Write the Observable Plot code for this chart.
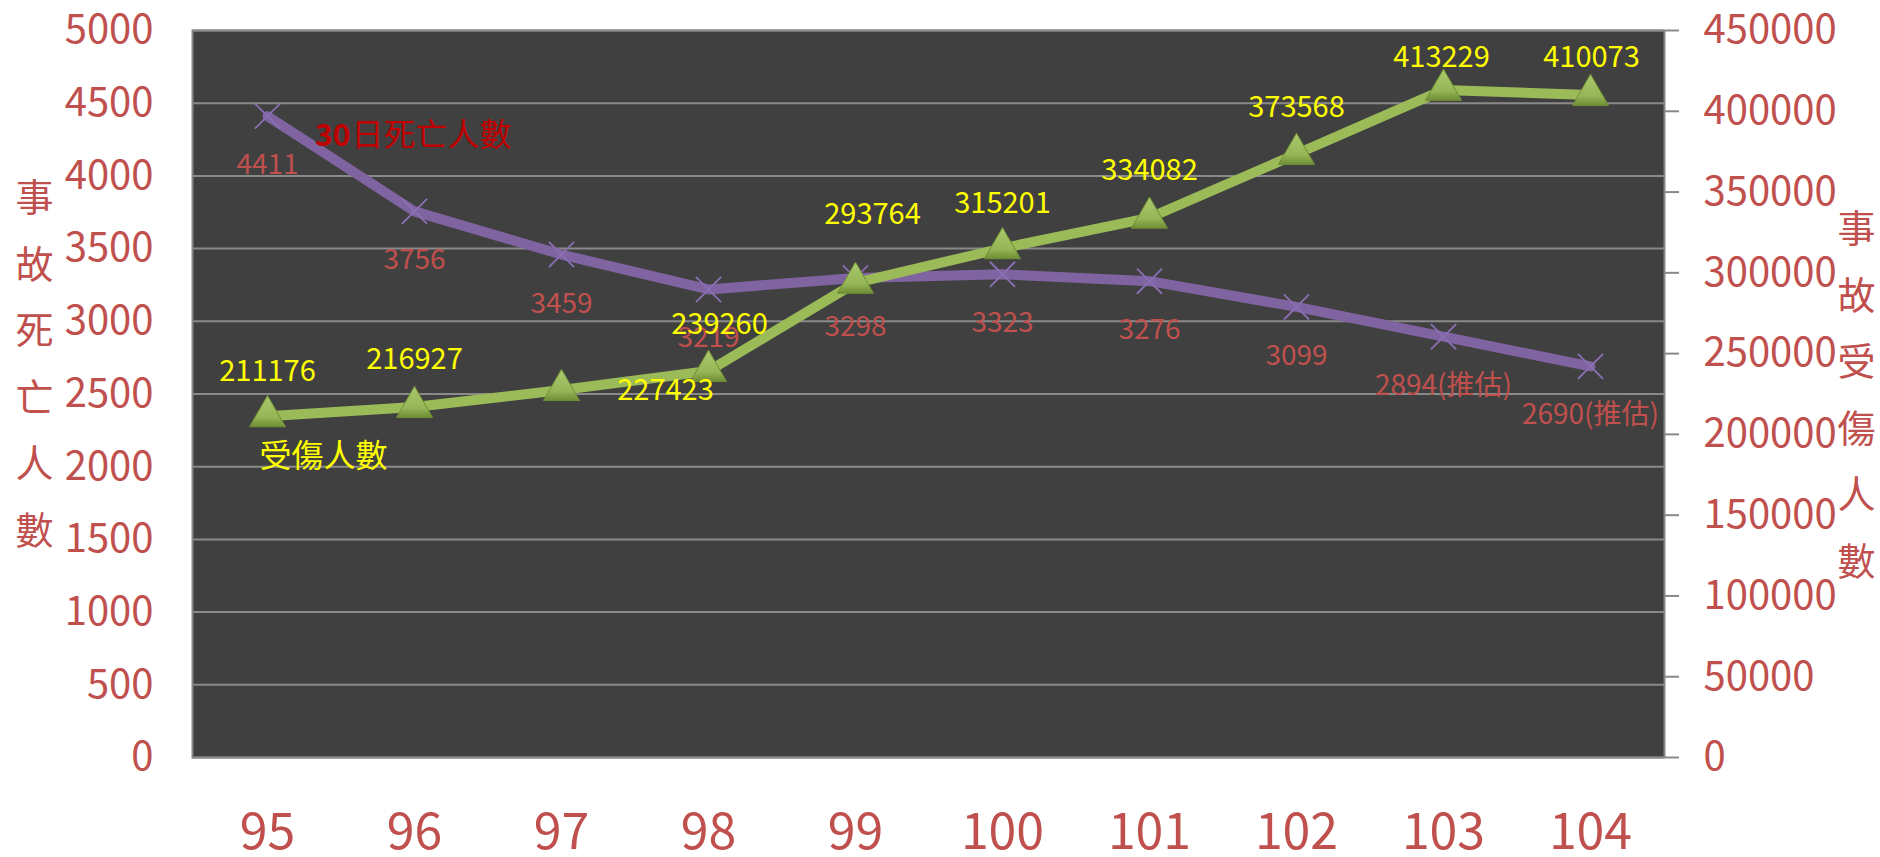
<!DOCTYPE html>
<html><head><meta charset="utf-8">
<script src="https://cdn.jsdelivr.net/npm/d3@7"></script>
<script src="https://cdn.jsdelivr.net/npm/@observablehq/plot@0.6"></script>
<style>body{margin:0;background:#fff}</style>
</head><body><div id="chart"></div>
<script>
// ---- data ----
const years = ["95","96","97","98","99","100","101","102","103","104"];
const deaths = [4411,3756,3459,3219,3298,3323,3276,3099,2894,2690];
const deathNotes = ["","","","","","","","","(推估)","(推估)"];
const injuries = [211176,216927,227423,239260,293764,315201,334082,373568,413229,410073];
const leftTicks = [0,500,1000,1500,2000,2500,3000,3500,4000,4500,5000];
const rightTicks = [0,50000,100000,150000,200000,250000,300000,350000,400000,450000];
const deathSeriesNum = "30";
const deathSeriesText = "日死亡人數";
const injurySeriesName = "受傷人數";
const leftTitle = "事故死亡人數";
const rightTitle = "事故受傷人數";
// ---- layout (label offsets in px) ----
const injLabelDx = [0,0,104,11,17,0,0,0,-2,1];
const injLabelDy = [-45,-47,1,-46,-68,-45,-47,-46,-32,-37];

const ratio = rightTicks[rightTicks.length-1] / leftTicks[leftTicks.length-1];
const rows = years.map((year,i)=>({year, death:deaths[i], deathLabel:String(deaths[i])+deathNotes[i], inj:injuries[i], injScaled:injuries[i]/ratio}));

const red = "#C0504D";
const font = '"Noto Sans CJK TC", "Noto Sans", sans-serif';

const injLabelMarks = rows.map((r,i)=>Plot.text([r], {x:"year", y:"injScaled", text:d=>String(d.inj), dx:injLabelDx[i], dy:injLabelDy[i], fill:"#FFFF00", fontSize:29}));

const plot = Plot.plot({
  width:1880, height:857,
  marginLeft:192, marginRight:216, marginTop:30, marginBottom:100,
  style:{fontFamily:font, background:"#fff", overflow:"visible"},
  x:{type:"point", domain:years, padding:0.5},
  y:{domain:[0,5000]},
  marks:[
    Plot.frame({fill:"#404040"}),
    Plot.gridY(leftTicks, {stroke:"#8a8a8a", strokeOpacity:1, strokeWidth:2}),
    Plot.frame({stroke:"#878787", strokeWidth:2}),
    Plot.line(rows, {x:"year", y:"death", stroke:"#8064A2", strokeWidth:10, strokeLinejoin:"round"}),
    Plot.dot(rows, {x:"year", y:"death", symbol:"times", r:11.5, stroke:"#8a6fb3", strokeWidth:1.8}),
    Plot.text(rows, {x:"year", y:"death", text:"deathLabel", dy:49, fill:red, fontSize:28}),
    Plot.line(rows, {x:"year", y:"injScaled", stroke:"#9BBB59", strokeWidth:10, strokeLinejoin:"round"}),
    Plot.dot(rows, {x:"year", y:"injScaled", symbol:"triangle", r:13.4, fill:"url(#triGrad)", stroke:"#6f8f33", strokeWidth:1}),
    ...injLabelMarks,
    Plot.text([rows[0]], {x:"year", y:"death", text:()=>deathSeriesNum, dx:83, dy:20, textAnchor:"end", fill:"#C00000", fontWeight:"bold", fontSize:30}),
    Plot.text([rows[0]], {x:"year", y:"death", text:()=>deathSeriesText, dx:84, dy:20, textAnchor:"start", fill:"#C00000", fontSize:32}),
    Plot.text([rows[0]], {x:"year", y:"injScaled", text:()=>injurySeriesName, dx:-8, dy:40, textAnchor:"start", fill:"#FFFF00", fontSize:32}),
    Plot.text([leftTitle], {frameAnchor:"left", text:d=>d.split("").join("\n"), dx:-158, dy:-38, textAnchor:"middle", lineHeight:1.75, fontSize:38, fill:red}),
    Plot.text([rightTitle], {frameAnchor:"right", text:d=>d.split("").join("\n"), dx:192, dy:-7, textAnchor:"middle", lineHeight:1.75, fontSize:38, fill:red}),
    Plot.axisY(leftTicks, {anchor:"left", tickSize:0, tickPadding:39, fontSize:40, fill:red, label:null, tickFormat:d=>String(d)}),
    Plot.axisY(rightTicks.map(v=>v/ratio), {anchor:"right", tickSize:14, tickPadding:25, stroke:"#888", strokeWidth:2, tickFormat:d=>String(Math.round(d*ratio)), fontSize:40, fill:red, label:null}),
    Plot.axisX({tickSize:0, tickPadding:56, fontSize:50, fill:red, label:null})
  ]
});
const defs = document.createElementNS("http://www.w3.org/2000/svg","defs");
defs.innerHTML = '<linearGradient id="triGrad" x1="0" y1="0" x2="0" y2="1"><stop offset="0" stop-color="#abc96e"/><stop offset="0.7" stop-color="#95b556"/><stop offset="1" stop-color="#6f8d35"/></linearGradient>';
plot.insertBefore(defs, plot.firstChild);
document.getElementById("chart").appendChild(plot);
</script>
</body></html>
